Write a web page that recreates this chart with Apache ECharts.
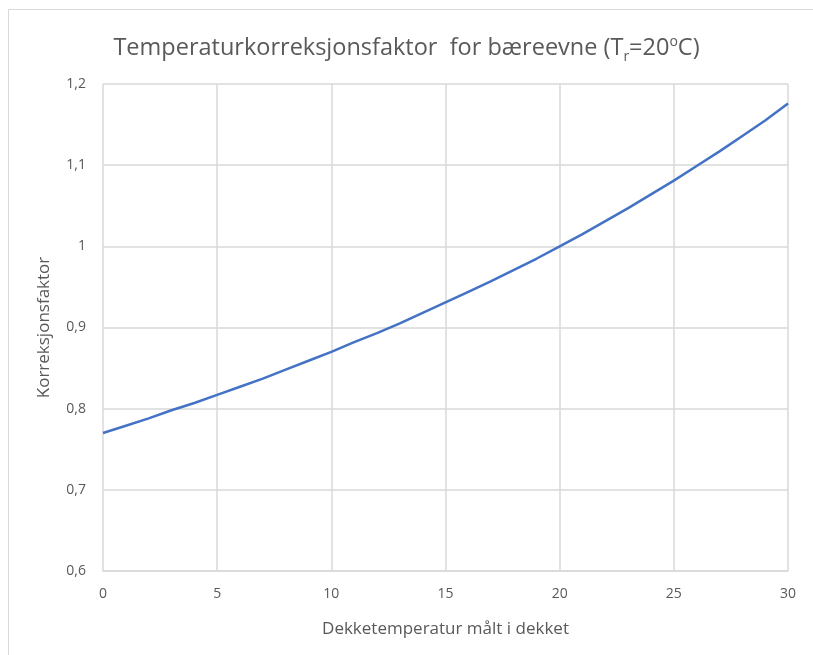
<!DOCTYPE html>
<html>
<head>
<meta charset="utf-8">
<script src="https://cdn.jsdelivr.net/npm/echarts@6/dist/echarts.min.js"></script>
<style>
html,body{margin:0;padding:0;background:#fff;}
#chart{width:813px;height:655px;}
</style>
</head>
<body>
<div id="chart"></div>
<script>
var temperatures = [0,1,2,3,4,5,6,7,8,9,10,11,12,13,14,15,16,17,18,19,20,21,22,23,24,25,26,27,28,29,30];
var factors = [0.770,0.779,0.788,0.798,0.807,0.817,0.827,0.837,0.848,0.859,0.870,0.882,0.893,0.905,0.918,0.931,0.944,0.957,0.971,0.985,1.000,1.015,1.031,1.047,1.064,1.081,1.099,1.117,1.136,1.155,1.176];
var xTicks = [0,5,10,15,20,25,30];
var yTicks = ['0,6','0,7','0,8','0,9','1','1,1','1,2'];

var seriesData = temperatures.map(function(t,i){return [t,factors[i]];});
var FONT = '"Open Sans", "Noto Sans", sans-serif';
var chart = echarts.init(document.getElementById('chart'));
chart.setOption({
  backgroundColor:'#fff',
  animation:false,
  title:{
    text:'{n|Temperaturkorreksjonsfaktor  for bæreevne (T}{sub|r}{n|=20}{sup|o}{n|C)}',
    left:'center', top:27,
    textStyle:{
      fontWeight:'normal',
      rich:{
        n:{fontFamily:FONT,fontSize:23.5,fontWeight:'normal',color:'#595959',lineHeight:32,verticalAlign:'middle'},
        sub:{fontFamily:FONT,fontSize:14,fontWeight:'normal',color:'#595959',lineHeight:15,verticalAlign:'bottom'},
        sup:{fontFamily:FONT,fontSize:14,fontWeight:'normal',color:'#595959',lineHeight:15,verticalAlign:'top',padding:[3,0,0,0]}
      }
    }
  },
  graphic:[
    {type:'line',shape:{x1:8.5,y1:9.5,x2:820,y2:9.5},style:{stroke:'#d9d9d9',lineWidth:1},silent:true},
    {type:'line',shape:{x1:8.5,y1:9.5,x2:8.5,y2:700},style:{stroke:'#d9d9d9',lineWidth:1},silent:true}
  ],
  grid:{left:103,right:25,top:84,bottom:84},
  xAxis:{
    type:'value',min:0,max:30,interval:5,
    name:'Dekketemperatur målt i dekket',nameLocation:'middle',nameGap:50,
    nameTextStyle:{fontFamily:FONT,fontSize:17,color:'#595959'},
    axisLine:{show:true,lineStyle:{color:'#d9d9d9',width:1.5}},
    axisTick:{show:false},
    axisLabel:{fontFamily:FONT,fontSize:14,color:'#595959',margin:16,
      formatter:function(v){return xTicks.indexOf(v)>=0?String(v):'';}},
    splitLine:{show:true,lineStyle:{color:'#d9d9d9',width:1.5}}
  },
  yAxis:{
    type:'value',min:0.6,max:1.2,interval:0.1,
    name:'Korreksjonsfaktor',nameLocation:'middle',nameGap:50,
    nameTextStyle:{fontFamily:FONT,fontSize:17,color:'#595959'},
    axisLine:{show:false},
    axisTick:{show:false},
    axisLabel:{fontFamily:FONT,fontSize:14,color:'#595959',margin:17,
      formatter:function(v){var i=Math.round((v-0.6)*10);return yTicks[i]!==undefined?yTicks[i]:'';}},
    splitLine:{show:true,lineStyle:{color:'#d9d9d9',width:1.5}}
  },
  series:[{
    type:'line',data:seriesData,smooth:false,showSymbol:false,
    lineStyle:{color:'#4472c4',width:2.5}
  }]
});
</script>
</body>
</html>
